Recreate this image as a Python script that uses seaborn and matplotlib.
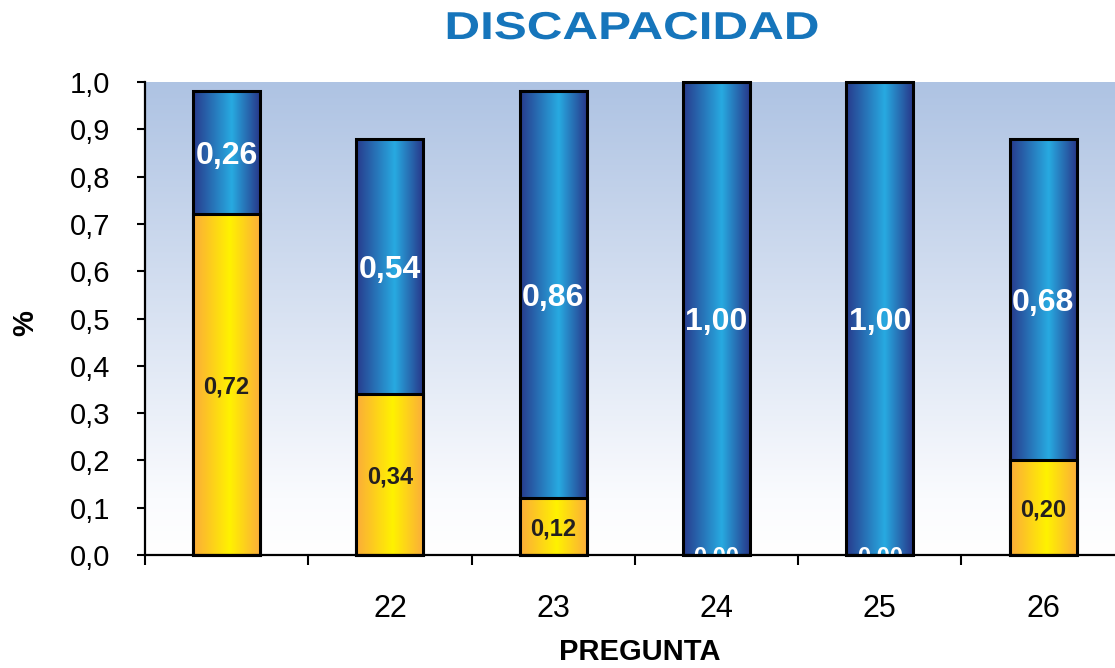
import numpy as np
import pandas as pd
import matplotlib
matplotlib.use("Agg")
import matplotlib.pyplot as plt
import seaborn as sns
from matplotlib.colors import LinearSegmentedColormap
from matplotlib.transforms import Affine2D
from matplotlib.patheffects import AbstractPathEffect
from matplotlib.ticker import FixedLocator

# Datos: proporción de respuestas por pregunta
preguntas = ["", "22", "23", "24", "25", "26"]
si = [0.72, 0.34, 0.12, 0.00, 0.00, 0.20]
no = [0.26, 0.54, 0.86, 1.00, 1.00, 0.68]
y_ticks = [0.0, 0.1, 0.2, 0.3, 0.4, 0.5, 0.6, 0.7, 0.8, 0.9, 1.0]

df = pd.DataFrame({"pregunta": preguntas, "si": si, "no": no})
df["total"] = df["si"] + df["no"]

sns.set_style("white")
plt.rcParams["font.family"] = ["Liberation Sans", "DejaVu Sans"]


class HStretch(AbstractPathEffect):
    """Widen a text path horizontally about its own centre."""

    def __init__(self, sx):
        super().__init__()
        self._sx = sx

    def draw_path(self, renderer, gc, tpath, affine, rgbFace=None):
        ext = tpath.get_extents(affine)
        cx = 0.5 * (ext.x0 + ext.x1)
        aff = affine + Affine2D().translate(-cx, 0).scale(self._sx, 1).translate(cx, 0)
        renderer.draw_path(gc, tpath, aff, rgbFace)


def coma(v, nd):
    return f"{v:.{nd}f}".replace(".", ",")


W, H = 1115, 668
fig = plt.figure(figsize=(W / 100, H / 100), dpi=100)
ax = fig.add_axes([145 / W, 1 - 555 / H, 970 / W, 473 / H])

bar_w = 0.41
# blue series stacked on top of the yellow one: draw full height first, yellow over it
sns.barplot(data=df, x="pregunta", y="total", order=preguntas, ax=ax, width=bar_w,
            color="#2a6db5", edgecolor="black", linewidth=2.2, saturation=1)
sns.barplot(data=df, x="pregunta", y="si", order=preguntas, ax=ax, width=bar_w,
            color="#fdd020", edgecolor="black", linewidth=2.2, saturation=1)

azul = LinearSegmentedColormap.from_list(
    "azul", [(0.0, "#283a8c"), (0.58, "#27aae1"), (1.0, "#28388a")])
amarillo = LinearSegmentedColormap.from_list(
    "amarillo", [(0.0, "#fbab3a"), (0.55, "#fff200"), (1.0, "#fbae3a")])
fondo = LinearSegmentedColormap.from_list(
    "fondo", [(0.0, "#ffffff"), (0.12, "#fafbfe"), (1.0, "#aec3e3")])

ramp = np.linspace(0, 1, 256)[None, :]


def rellenar(patch, cmap, z):
    x0, y0 = patch.get_x(), patch.get_y()
    w, h = patch.get_width(), patch.get_height()
    patch.set_facecolor("none")
    patch.set_zorder(z + 0.05)
    patch.set_clip_on(False)
    if h <= 0:
        return
    im = ax.imshow(ramp, cmap=cmap, extent=(x0, x0 + w, y0, y0 + h),
                   aspect="auto", interpolation="bilinear", zorder=z)
    im.set_clip_path(patch)


n = len(preguntas)
for p in ax.patches[:n]:
    rellenar(p, azul, 2.0)
for p in ax.patches[n:2 * n]:
    rellenar(p, amarillo, 2.2)

xmin, xmax = -0.5, 5.44
ax.imshow(np.linspace(0, 1, 256)[:, None], cmap=fondo, origin="lower",
          extent=(xmin, xmax, 0, 1), aspect="auto", zorder=0)
ax.set_xlim(xmin, xmax)
ax.set_ylim(0, 1)


def etiqueta(x, y, texto, size, color):
    # centre the cap height of the digits on the given point
    ax.annotate(texto, (x, y), xytext=(0, -0.36 * size), textcoords="offset points",
                ha="center", va="baseline", color=color, fontsize=size,
                fontweight="bold", zorder=5, annotation_clip=False, clip_on=True)


for i in range(n):
    s, o = df["si"][i], df["no"][i]
    etiqueta(i, s + o / 2, coma(o, 2), 23, "white")
    etiqueta(i, s / 2, coma(s, 2), 17, "#231f20" if s > 0 else "white")

# axes styling
for side in ["top", "right"]:
    ax.spines[side].set_visible(False)
for side in ["left", "bottom"]:
    ax.spines[side].set_color("black")
    ax.spines[side].set_linewidth(1.6)
    ax.spines[side].set_zorder(6)

ax.set_yticks(y_ticks)
ax.set_yticklabels([coma(v, 1) for v in y_ticks])
ax.tick_params(axis="y", which="major", left=True, direction="out", length=5.8,
               width=1.5, pad=19, labelsize=21, colors="black")

ax.set_xticks(range(n))
ax.set_xticklabels(preguntas)
ax.xaxis.set_minor_locator(FixedLocator(np.arange(-0.5, n, 1.0)))
ax.tick_params(axis="x", which="major", bottom=True, length=0, pad=28,
               labelsize=22, colors="black")
ax.tick_params(axis="x", which="minor", bottom=True, direction="out", length=7.2,
               width=1.5, color="black")

ax.set_xlabel("PREGUNTA", fontsize=21, fontweight="bold", color="black")
ax.xaxis.set_label_coords((640 - 145) / 970, (555 - 652) / 473)
ax.xaxis.label.set_va("center")

ax.set_ylabel("%", fontsize=21, fontweight="bold", color="black")
ax.yaxis.set_label_coords((25 - 145) / 970, (555 - 323) / 473)
ax.yaxis.label.set_va("center")

fig.text(632 / W, 1 - 29 / H, "DISCAPACIDAD", ha="center", va="center",
         fontsize=28, fontweight="bold", color="#1675bb",
         path_effects=[HStretch(1.27)])

fig.savefig("out.png", dpi=100)
